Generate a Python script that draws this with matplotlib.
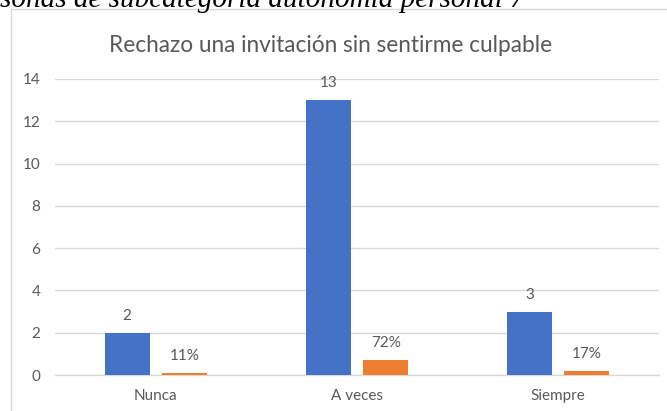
import matplotlib
matplotlib.use("Agg")
import matplotlib.pyplot as plt
from matplotlib.patches import Rectangle

# data
categories = ["Nunca", "A veces", "Siempre"]
counts = [2, 13, 3]
shares = [0.11, 0.72, 0.17]
count_labels = ["2", "13", "3"]
share_labels = ["11%", "72%", "17%"]
yticks = [0, 2, 4, 6, 8, 10, 12, 14]

title = "Rechazo una invitación sin sentirme culpable"
caption = "sonas de subcategoría autonomía personal 7"

W, H = 667, 411
blue = "#4472C4"
orange = "#ED7D31"
grey_text = "#595959"
grid_col = "#D9D9D9"


def main():
    fig = plt.figure(figsize=(W / 100, H / 100), dpi=100)
    fig.patch.set_facecolor("white")

    # chart frame, cut off on the right and bottom like the screenshot
    fig.patches.append(Rectangle((11 / W, -0.1), 2, (H - 9) / H + 0.1,
                                 transform=fig.transFigure, fill=False,
                                 edgecolor=grid_col, linewidth=1.0))

    # clipped caption of the document above the chart
    fig.text(0 / W, (H - 7) / H, caption, family="Liberation Serif",
             style="italic", fontsize=21, color="black", va="baseline", ha="left")

    # plot area
    left, right = 55 / W, 659 / W
    bottom, top = (H - 375) / H, (H - 79) / H
    ax = fig.add_axes([left, bottom, right - left, top - bottom])

    x = list(range(len(categories)))
    w = 0.224
    off = 0.142
    b1 = ax.bar([i - off for i in x], counts, width=w, color=blue, zorder=3)
    b2 = ax.bar([i + off for i in x], shares, width=w, color=orange, zorder=3)

    for rect, lab in zip(list(b1) + list(b2), count_labels + share_labels):
        ax.annotate(lab, (rect.get_x() + rect.get_width() / 2, rect.get_height()),
                    xytext=(0, 12.2), textcoords="offset points",
                    ha="center", va="center", fontsize=11, color=grey_text,
                    family="Lato")

    ax.set_xlim(-0.5, len(categories) - 0.5)
    ax.set_ylim(0, 14)
    ax.set_yticks(yticks)
    ax.set_xticks(x)
    ax.set_xticklabels(categories)
    ax.yaxis.grid(True, color=grid_col, linewidth=1.0, zorder=0)
    ax.set_axisbelow(True)
    for s in ["top", "right", "left"]:
        ax.spines[s].set_visible(False)
    ax.spines["bottom"].set_color(grid_col)
    ax.spines["bottom"].set_linewidth(1.0)
    ax.tick_params(axis="both", length=0, colors=grey_text, labelsize=11)
    ax.tick_params(axis="y", pad=10.5)
    ax.tick_params(axis="x", pad=10)
    for lab in ax.get_xticklabels() + ax.get_yticklabels():
        lab.set_family("Lato")

    fig.text(331 / W, (H - 45) / H, title, family="Lato", fontsize=16.3,
             color=grey_text, ha="center", va="center")

    fig.savefig("out.png", dpi=100)
    return 0


if __name__ == "__main__":
    main()
